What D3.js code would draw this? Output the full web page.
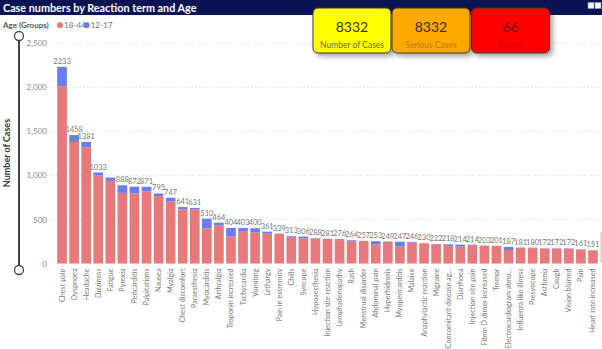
<!DOCTYPE html>
<html><head><meta charset="utf-8">
<script src="https://cdn.jsdelivr.net/npm/d3@7"></script>
<style>
html,body{margin:0;padding:0;background:#fff;}
svg{display:block;font-family:Lato,"Open Sans",sans-serif;}
</style></head>
<body><svg id="c" width="602" height="349"></svg>
<script>
const categories = ["Chest pain","Dyspnoea","Headache","Dizziness","Fatigue","Pyrexia","Pericarditis","Palpitations","Nausea","Myalgia","Chest discomfort","Paraesthesia","Myocarditis","Arthralgia","Troponin increased","Tachycardia","Vomiting","Lethargy","Pain in extremity","Chills","Syncope","Hypoaesthesia","Injection site reaction","Lymphadenopathy","Rash","Menstrual disorder","Abdominal pain","Hyperhidrosis","Myopericarditis","Malaise","Anaphylactic reaction","Migraine","Concomitant disease ag...","Diarrhoea","Injection site pain","Fibrin D dimer increased","Tremor","Electrocardiogram abno...","Influenza like illness","Presyncope","Asthenia","Cough","Vision blurred","Pain","Heart rate increased"];
const totals = [2233,1458,1381,1033,976,888,872,871,795,747,641,631,510,464,404,403,400,361,339,313,306,288,281,276,264,257,253,249,247,246,230,222,218,214,214,203,201,187,181,180,172,172,172,161,151];
const age1217 = [220,78,64,34,38,86,75,53,30,45,26,15,113,30,98,34,49,23,5,8,19,5,3,10,11,0,37,5,56,10,0,5,8,23,5,0,3,34,5,5,3,5,5,3,3];
const showLabel = totals.map((d,i)=> i!==4);
const seriesNames = ["18-44","12-17"];
const seriesColors = ["#E8797A","#6A7CF0"];
const yTicks = [0,500,1000,1500,2000,2500];
const kpiValues = ["8332","8332","66"];
const kpiLabels = ["Number of Cases","Serious Cases","Deaths"];

const svg = d3.select("#c");
const defs = svg.append("defs");
const f = defs.append("filter").attr("id","sh").attr("x","-20%").attr("y","-20%").attr("width","150%").attr("height","160%");
f.append("feDropShadow").attr("dx",3).attr("dy",3).attr("stdDeviation",2.5).attr("flood-color","#000").attr("flood-opacity",0.35);

// title bar
svg.append("rect").attr("x",0).attr("y",0).attr("width",602).attr("height",15).attr("fill","#0B1452");
svg.append("text").attr("x",3).attr("y",11.5).attr("fill","#fff").attr("font-weight","bold").attr("font-size",10.8).text("Case numbers by Reaction term and Age");
[588,595].forEach(x=>svg.append("rect").attr("x",x).attr("y",2.5).attr("width",6).attr("height",6).attr("fill","#f4f4f4").attr("stroke","#999").attr("stroke-width",0.5));

// legend
const lg = svg.append("g");
lg.append("text").attr("x",3).attr("y",28).attr("font-size",8).attr("font-weight","bold").attr("fill","#555").text("Age (Groups)");
lg.append("circle").attr("cx",60).attr("cy",25.2).attr("r",3).attr("fill",seriesColors[0]);
lg.append("text").attr("x",64).attr("y",28).attr("font-size",8.2).attr("fill","#777").text(seriesNames[0]);
lg.append("circle").attr("cx",86.5).attr("cy",25.2).attr("r",3).attr("fill",seriesColors[1]);
lg.append("text").attr("x",90.5).attr("y",28).attr("font-size",8.2).attr("fill","#777").text(seriesNames[1]);

// scales
const x = d3.scaleBand().domain(categories).range([56,599]).paddingInner(0.2).paddingOuter(0.1);
const y = d3.scaleLinear().domain([0,2500]).range([263.5,43.3]);

// grid
svg.append("g").selectAll("line").data(yTicks.filter(d=>d>0)).join("line")
  .attr("x1",52).attr("x2",602).attr("y1",d=>y(d)).attr("y2",d=>y(d))
  .attr("stroke","#cfcfcf").attr("stroke-width",0.8).attr("stroke-dasharray","1,2.5");

// y axis
const ya = svg.append("g").attr("transform","translate(47,0)").call(d3.axisLeft(y).tickValues(yTicks).tickSize(0).tickPadding(0).tickFormat(d3.format(",")));
ya.select(".domain").remove();
ya.selectAll("text").attr("font-size",8).attr("fill","#888").attr("font-family",'Lato,"Open Sans",sans-serif');

// slider
svg.append("line").attr("x1",19).attr("x2",19).attr("y1",36).attr("y2",270).attr("stroke","#444").attr("stroke-width",2);
[36,270].forEach(cy=>svg.append("circle").attr("cx",19).attr("cy",cy).attr("r",4.5).attr("fill","#fff").attr("stroke","#444").attr("stroke-width",1.3));
svg.append("text").attr("transform","translate(9.5,153) rotate(-90)").attr("text-anchor","middle").attr("font-size",9).attr("font-weight","bold").attr("fill","#333").text("Number of Cases");

// bars
const data = categories.map((c,i)=>({c, a:totals[i]-age1217[i], b:age1217[i], t:totals[i], show:showLabel[i]}));
const stack = d3.stack().keys(["a","b"])(data);
svg.append("g").selectAll("g").data(stack).join("g").attr("fill",(d,i)=>seriesColors[i])
  .selectAll("rect").data(d=>d).join("rect")
  .attr("x",d=>x(d.data.c)).attr("width",x.bandwidth())
  .attr("y",d=>y(d[1])).attr("height",d=>Math.max(0,y(d[0])-y(d[1])));

// value labels
svg.append("g").selectAll("text").data(data.filter(d=>d.show)).join("text")
  .attr("x",d=>x(d.c)+x.bandwidth()/2).attr("y",d=>y(d.t)-3)
  .attr("text-anchor","middle").attr("font-size",7.5).attr("fill","#777").text(d=>d.t);

// x axis labels
const xa = svg.append("g").attr("transform","translate(0,263.5)").call(d3.axisBottom(x).tickSize(0).tickPadding(0));
xa.select(".domain").remove();
xa.selectAll("text").attr("font-size",7.2).attr("fill","#777").attr("font-family",'Lato,"Open Sans",sans-serif')
  .attr("text-anchor","end").attr("dy",0).attr("transform","translate(2.5,5) rotate(-90)");

// green edge mark
svg.append("rect").attr("x",600.5).attr("y",232).attr("width",1.5).attr("height",30).attr("fill","#b6e3a6");

// KPI cards
const cardX = [313,392,471.5];
const cardFill = ["#FFFF00","#FFA800","#FF0000"];
const valFill = ["#333","#333","#7A0000"];
const labFill = ["#666","#B77A00","#D80000"];
const cards = svg.append("g");
cardX.forEach((cx,i)=>{
  cards.append("rect").attr("x",cx).attr("y",8).attr("width",78).attr("height",45).attr("rx",5)
    .attr("fill",cardFill[i]).attr("stroke","#3a3a2a").attr("stroke-width",1).attr("filter","url(#sh)");
  cards.append("text").attr("x",cx+39).attr("y",32).attr("text-anchor","middle").attr("font-size",14).attr("fill",valFill[i]).text(kpiValues[i]);
  cards.append("text").attr("x",cx+39).attr("y",47.5).attr("text-anchor","middle").attr("font-size",8.5).attr("fill",labFill[i]).text(kpiLabels[i]);
});
</script></body></html>
